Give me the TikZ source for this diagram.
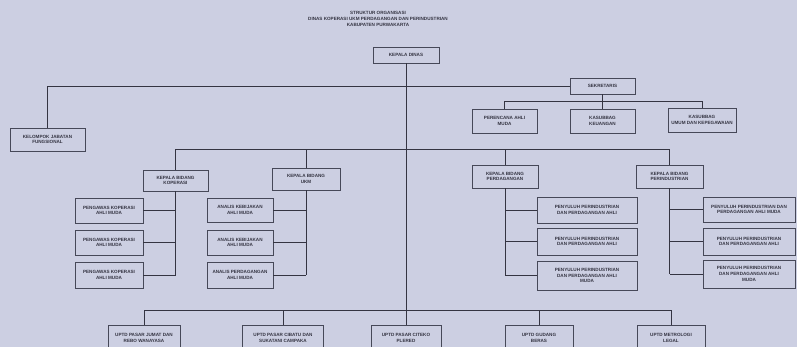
\documentclass[tikz,border=0pt]{standalone}
\usepackage{fontspec}
\setmainfont{Liberation Sans}
\definecolor{paper}{RGB}{204,207,226}
\definecolor{ink}{RGB}{52,52,66}
\definecolor{frame}{RGB}{70,72,88}
\begin{document}
\begin{tikzpicture}[x=1pt,y=-1pt,
  box/.style={draw=frame,line width=0.9pt,fill=paper,inner sep=0pt,align=center,
    font=\fontsize{4.6}{5.6}\selectfont\bfseries,text=ink},
  wire/.style={draw=ink,line width=0.8pt}]
\useasboundingbox (0,0) rectangle (797,347);
\fill[paper] (0,0) rectangle (797,347);

% title
\node[align=center,text=ink,font=\fontsize{4.6}{6.4}\selectfont\bfseries] (title) at (378,19)
  {STRUKTUR ORGANISASI\\DINAS KOPERASI UKM PERDAGANGAN DAN PERINDUSTRIAN\\KABUPATEN PURWAKARTA};

% top level
\node[box,minimum width=66,minimum height=16] (kadis) at (406,55) {KEPALA DINAS};
\node[box,minimum width=65,minimum height=16] (sek) at (602.5,86) {SEKRETARIS};
\node[box,minimum width=75,minimum height=23] (kjf) at (47.5,139.5) {KELOMPOK JABATAN\\FUNGSIONAL};

% secretariat
\node[box,minimum width=65,minimum height=24] (ren) at (504.5,121) {PERENCANA AHLI\\MUDA};
\node[box,minimum width=65,minimum height=24] (keu) at (602.5,121) {KASUBBAG\\KEUANGAN};
\node[box,minimum width=68,minimum height=24] (kpg) at (702,120) {KASUBBAG\\UMUM DAN KEPEGAWAIAN};

% divisions
\node[box,minimum width=65,minimum height=21] (bkop) at (175.5,180.5) {KEPALA BIDANG\\KOPERASI};
\node[box,minimum width=68,minimum height=22] (bukm) at (306,179) {KEPALA BIDANG\\UKM};
\node[box,minimum width=66,minimum height=23] (bdag) at (505,176.5) {KEPALA BIDANG\\PERDAGANGAN};
\node[box,minimum width=67,minimum height=23] (bind) at (669.5,176.5) {KEPALA BIDANG\\PERINDUSTRIAN};

% koperasi staff
\node[box,minimum width=68,minimum height=25] (k1) at (109,210.5) {PENGAWAS KOPERASI\\AHLI MUDA};
\node[box,minimum width=68,minimum height=25] (k2) at (109,242.5) {PENGAWAS KOPERASI\\AHLI MUDA};
\node[box,minimum width=68,minimum height=26] (k3) at (109,275) {PENGAWAS KOPERASI\\AHLI MUDA};

% ukm staff
\node[box,minimum width=66,minimum height=24] (m1) at (240,210) {ANALIS KEBIJAKAN\\AHLI MUDA};
\node[box,minimum width=66,minimum height=25] (m2) at (240,242.5) {ANALIS KEBIJAKAN\\AHLI MUDA};
\node[box,minimum width=66,minimum height=26] (m3) at (240,275) {ANALIS PERDAGANGAN\\AHLI MUDA};

% perdagangan staff
\node[box,minimum width=100,minimum height=26] (d1) at (587,210) {PENYULUH PERINDUSTRIAN\\DAN PERDAGANGAN AHLI};
\node[box,minimum width=100,minimum height=27] (d2) at (587,241.5) {PENYULUH PERINDUSTRIAN\\DAN PERDAGANGAN AHLI};
\node[box,minimum width=100,minimum height=29] (d3) at (587,275.5) {PENYULUH PERINDUSTRIAN\\DAN PERDAGANGAN AHLI\\MUDA};

% perindustrian staff
\node[box,minimum width=92,minimum height=25] (i1) at (749,209.5) {PENYULUH PERINDUSTRIAN DAN\\PERDAGANGAN AHLI MUDA};
\node[box,minimum width=92,minimum height=27] (i2) at (749,241.5) {PENYULUH PERINDUSTRIAN\\DAN PERDAGANGAN AHLI};
\node[box,minimum width=92,minimum height=28] (i3) at (749,274) {PENYULUH PERINDUSTRIAN\\DAN PERDAGANGAN AHLI\\MUDA};

% technical units
\node[box,minimum width=72,minimum height=26] (u1) at (144,338) {UPTD PASAR JUMAT DAN\\REBO WANAYASA};
\node[box,minimum width=81,minimum height=26] (u2) at (283,338) {UPTD PASAR CIBATU DAN\\SUKATANI CAMPAKA};
\node[box,minimum width=70,minimum height=26] (u3) at (406,338) {UPTD PASAR CITEKO\\PLERED};
\node[box,minimum width=68,minimum height=26] (u4) at (539,338) {UPTD GUDANG\\BERAS};
\node[box,minimum width=68,minimum height=26] (u5) at (671,338) {UPTD METROLOGI\\LEGAL};

% bus lines
\coordinate (sbus) at (603,101);
\coordinate (bbus) at (406,149);
\coordinate (ubus) at (406,310);

% connectors
\draw[wire] (kadis) -- (u3);
\draw[wire] (kjf.north) |- (sek.west);
\draw[wire] (sek) -- (keu);
\draw[wire] (ren.north) -- (ren.north |- sbus) -- (kpg.north |- sbus) -- (kpg.north);

\draw[wire] (bkop.north) -- (bkop.north |- bbus) -- (bind.north |- bbus) -- (bind.north);
\draw[wire] (bukm.north) -- (bukm.north |- bbus);
\draw[wire] (bdag.north) -- (bdag.north |- bbus);

\draw[wire] (bkop.south) -- (bkop.south |- k3.east);
\foreach \n in {k1,k2,k3} \draw[wire] (\n.east) -- (\n.east -| bkop.south);
\draw[wire] (bukm.south) -- (bukm.south |- m3.east);
\foreach \n in {m1,m2,m3} \draw[wire] (\n.east) -- (\n.east -| bukm.south);
\draw[wire] (bdag.south) -- (bdag.south |- d3.west);
\foreach \n in {d1,d2,d3} \draw[wire] (\n.west) -- (\n.west -| bdag.south);
\draw[wire] (bind.south) -- (bind.south |- i3.west);
\foreach \n in {i1,i2,i3} \draw[wire] (\n.west) -- (\n.west -| bind.south);

\draw[wire] (u1.north) -- (u1.north |- ubus) -- (u5.north |- ubus) -- (u5.north);
\draw[wire] (u2.north) -- (u2.north |- ubus);
\draw[wire] (u4.north) -- (u4.north |- ubus);
\end{tikzpicture}
\end{document}
